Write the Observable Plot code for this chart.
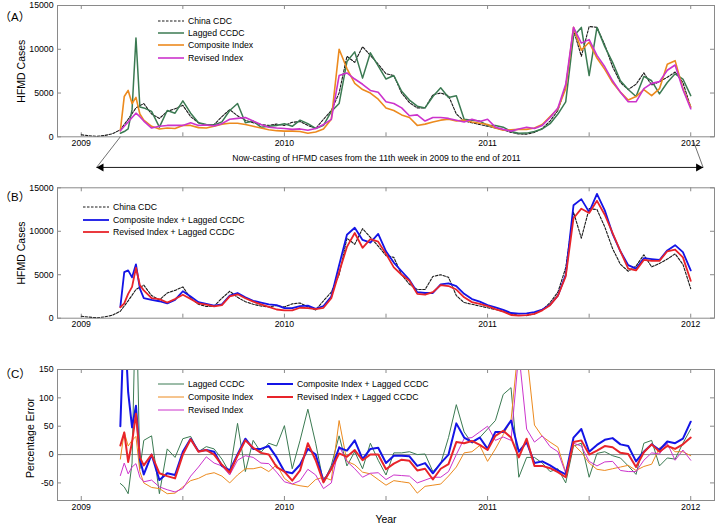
<!DOCTYPE html>
<html>
<head>
<meta charset="utf-8">
<script src="https://cdn.jsdelivr.net/npm/d3@7"></script>
<script src="https://cdn.jsdelivr.net/npm/@observablehq/plot@0.6"></script>
<style>
html,body{margin:0;padding:0;background:#fff;}
#chart{position:relative;width:716px;height:525px;overflow:hidden;font-family:"Liberation Sans",Arial,Helvetica,sans-serif;}
#chart .pnl{position:absolute;left:0;}
.lg{position:absolute;height:12px;display:flex;align-items:center;font-size:8.7px;color:#000;white-space:nowrap;}
.lg svg{display:block;margin-right:4px;}
</style>
</head>
<body>
<div id="chart"></div>
<script>
// ---------- DATA ----------
// week index counted from the first week of 2009
const weeksCDC = [0,2,4,6,8,10,12,14,16,18,20,22,24,26,28,30,32,34,36,38,40,42,44,46,48,50,52,54,56,58,60,62,64,66,68,70,72,74,76,78,80,82,84,86,88,90,92,94,96,98,100,102,104,106,108,110,112,114,116,118,120,122,124,126,128,130,132,134,136,138,140,142,144,146,148,150,152,154,156];
const weeksNow = [10,11,12,13,14,15,16,18,20,22,24,26,28,30,32,34,36,38,40,42,44,46,48,50,52,54,56,58,60,62,64,66,68,70,72,74,76,78,80,82,84,86,88,90,92,94,96,98,100,102,104,106,108,110,112,114,116,118,120,122,124,126,128,130,132,134,136,138,140,142,144,146,148,150,152,154,156];

const chinaCDC = [230,120,50,150,350,800,2000,3300,3800,2600,2100,2900,3200,3600,2300,1600,1350,1400,2300,3100,2400,1900,1600,1400,1300,1450,1300,1650,1750,1300,950,2000,3000,5000,9200,8500,10300,9300,8300,7200,7000,5000,3900,3300,3300,4800,5000,4700,2600,1800,1600,1400,1200,1000,800,500,320,300,500,950,1800,3000,5800,12200,9200,12600,12500,10500,8000,6200,5400,6000,7300,5900,6300,6800,7400,6200,3400];

const laggedCCDC = [400,600,900,3100,11300,3400,3300,2900,1100,3000,2700,4100,2700,1600,1400,1350,1700,3000,3800,1600,1800,1100,1200,1300,1500,1200,1900,1500,950,1300,2900,3800,8600,9700,6700,9600,8100,6600,7000,5200,4200,3500,3300,4600,5600,4500,4700,2000,1900,1800,1300,1300,1100,600,400,420,600,900,1500,2600,4000,11500,12500,7000,12500,10300,8500,6400,5400,4600,6900,6400,4900,6200,7200,6600,4700];

const compositeIndex = [700,4600,5300,3800,4500,2600,1900,1200,900,1000,950,1300,1300,1050,1000,1200,1450,1550,1550,1400,1200,1000,800,700,650,650,600,400,550,900,2000,10000,7800,6100,5400,5000,4300,3300,3000,2500,2200,1300,1450,1700,1900,2000,1800,1900,1700,1550,1400,1000,750,800,850,850,1000,1400,2300,3200,5500,12500,9900,10800,9000,7700,6200,5100,4200,4600,5400,4700,5500,8300,8700,5500,3400];

const revisedIndex = [700,1200,1700,2200,2700,2300,1800,1000,1200,1300,1300,1300,1600,1300,1350,1250,1500,2000,2100,2200,1800,1400,1100,1000,950,850,900,750,950,1400,2000,7000,7300,6600,6000,5300,5100,4000,3800,3300,2400,2500,1800,2200,2200,2100,1900,1700,2000,1750,2000,1100,850,650,900,1100,950,1300,2200,3300,6000,12500,10700,11100,9300,8000,6400,5100,4000,4000,5500,6100,6300,7600,8200,5400,3200];

const compositeLagged = [1300,5300,5500,4700,6200,3400,2300,2100,1950,1700,2100,3100,2500,1850,1650,1450,1600,2600,2900,2400,2000,1800,1600,1500,1150,1150,1400,1450,1070,1400,2500,6100,9600,10400,9000,8700,9700,7700,6400,5400,4400,3000,2900,2900,3900,4000,3700,2800,2200,1900,1500,1250,950,600,520,560,700,1000,1550,2600,5000,13000,13700,12200,14300,12400,9700,7700,6100,5700,6900,6800,6700,7800,8400,7600,5500];

const revisedLagged = [1260,1700,2800,3600,5800,3800,3200,2300,2200,1800,2200,2700,2200,1700,1550,1350,1500,2500,2750,2300,1900,1600,1300,1000,900,900,1200,1150,1050,1200,2300,5300,8200,9800,8100,9100,8800,7400,5850,5000,4300,2800,2700,3000,3800,3700,3300,2400,1850,1650,1400,1050,750,370,300,350,500,900,1500,2600,4800,11500,12600,12100,13500,11900,9800,7700,5700,5500,6700,6600,6600,7700,7900,7000,4300];

// percentage errors (%)
const errLagged = [-51,-57,-69,-15,300,-25,25,33,-69,10,-5,28,32,5,14,10,-8,-32,55,-30,25,4,20,15,51,-25,25,80,20,-50,-19,33,-20,5,-25,20,-10,-36,3,3,5,0,1,-30,-16,30,88,40,20,30,45,60,106,118,-40,-5,-5,-15,-30,-25,-50,15,20,-40,2,5,-2,-6,-20,-35,20,25,-20,-6,-8,20,45];
const errComposite = [-8,40,15,25,32,-30,-50,-58,-60,-69,-68,-57,-46,-42,-35,-32,-38,-50,-36,-25,-25,-22,-30,-18,-42,-52,-55,-57,-44,-40,-45,60,-12,-18,-31,-34,-44,-54,-46,-48,-50,-68,-56,-54,-52,-38,-22,3,5,16,-12,10,35,60,200,180,52,32,22,13,-31,18,4,-15,-26,-28,-25,-22,-19,-28,-21,-17,12,18,5,5,-2];
const errRevised = [-37,-15,-34,-22,-16,-40,-48,-45,-57,-62,-66,-60,-38,-22,-4,-15,-20,-36,-10,-2,-5,-15,-16,-31,-48,-52,-46,-26,-36,-60,-50,15,-12,-25,-40,-33,-32,-44,-36,-37,-38,-50,-45,-40,-40,-30,0,28,30,40,50,25,31,25,180,45,22,33,14,5,-33,20,15,-12,-20,-13,-12,-28,-30,-30,-10,3,1,20,-10,8,-10];
const errCompositeLagged = [50,250,110,48,86,-8,-35,0,-45,-33,-36,5,28,6,8,5,-20,-28,0,28,10,10,15,-5,-30,-33,-18,10,0,-47,-25,12,7,25,-8,10,12,-15,-2,-2,-3,-20,-15,-33,-15,0,55,30,22,30,10,40,40,60,5,22,-15,-12,-19,-28,-35,30,45,5,17,26,29,18,15,-12,5,18,8,23,20,28,58];
const errRevisedLagged = [16,39,-13,22,72,-5,-19,0,-33,-38,-42,0,27,5,8,0,-18,-32,-2,25,12,3,0,-22,-30,-46,-28,20,-10,-49,-25,2,-4,8,-10,0,0,-26,-16,-9,-11,-28,-25,-44,-25,-17,22,20,24,17,8,33,42,30,-5,28,-20,-20,-24,-31,-40,22,25,0,7,15,13,3,1,-22,4,18,5,15,10,18,30];

// axes
const halfYearTicks = [2009, 2009.5, 2010, 2010.5, 2011, 2011.5, 2012];
const yearTicks = [2009, 2010, 2011, 2012];
const casesTicks = [0, 5000, 10000, 15000];
const errorTicks = [-50, 0, 50, 100, 150];

// annotation (x in years, y in cases, panel A)
const nowcastText = "Now-casting of HFMD cases from the 11th week in 2009 to the end of 2011";
const nowcastArrow = [{x1: 2009.0753, x2: 2012.061, y: -3500}];
const nowcastHeads = [{x: 2009.098, y: -3500, rot: -90}, {x: 2012.038, y: -3500, rot: 90}];
const nowcastLeaders = [
  {x1: 2009 + 10/52, y1: 0, x2: 2009.0753, y2: -3500},
  {x1: 2012.012, y1: -420, x2: 2012.061, y2: -3500}
];
const nowcastLabel = [{x: 2010.453, y: -2500, t: nowcastText}];

// ---------- STYLE ----------
const FONT = '"Liberation Sans", Arial, Helvetica, sans-serif';
const COL = {cdc: "#1a1a1a", lag: "#3b7a52", comp: "#ec8a1e", rev: "#cc33cc", compLag: "#1414e6", revLag: "#e8242a"};
const W = 716, ML = 57, MR = 2, GRAY = "#8a8a8a";
const xDomain = [2008.883, 2012.117];
const toYear = w => 2009 + w / 52;
const rows = (weeks, vals) => weeks.map((w, i) => ({x: toYear(w), y: vals[i]}));

function panel(cfg) {
  const fh = cfg.height - cfg.marginTop - cfg.marginBottom;
  const fw = W - ML - MR;
  return Plot.plot({
    width: W, height: cfg.height,
    marginLeft: ML, marginRight: MR, marginTop: cfg.marginTop, marginBottom: cfg.marginBottom,
    style: {fontFamily: FONT, fontSize: "8.7px", background: "transparent", color: "#000", overflow: "visible"},
    x: {domain: xDomain},
    y: {domain: cfg.yDomain},
    marks: [
      ...(cfg.before || []),
      Plot.tickX(halfYearTicks, {x: d => d, insetTop: fh - 4, stroke: GRAY}),
      Plot.tickX(halfYearTicks, {x: d => d, insetBottom: fh - 4, stroke: GRAY}),
      Plot.tickY(cfg.yTicks, {y: d => d, insetRight: fw - 4, stroke: GRAY}),
      Plot.tickY(cfg.yTicks, {y: d => d, insetLeft: fw - 4, stroke: GRAY}),
      Plot.axisX({ticks: yearTicks, tickFormat: d => String(d), tickSize: 0, tickPadding: 3, label: null}),
      Plot.axisY({ticks: cfg.yTicks, tickFormat: d => String(d), tickSize: 0, tickPadding: 4, label: null}),
      ...cfg.marks,
      Plot.frame({stroke: GRAY}),
      Plot.text([cfg.yLabel], {text: d => d, frameAnchor: "left", rotate: -90, dx: cfg.yLabelDx, dy: cfg.yLabelDy || 0, fontSize: 10.5, textAnchor: "middle", lineAnchor: "middle"}),
      Plot.text([cfg.tag], {text: d => d, frameAnchor: "top-left", dx: -58, dy: cfg.tagDy, fontSize: 11.5, textAnchor: "start", lineAnchor: "middle", fontFamily: '"Liberation Sans", "Noto Sans CJK SC", sans-serif'}),
      ...(cfg.after || [])
    ]
  });
}

const chart = document.getElementById("chart");
function place(svg, top) {
  const d = document.createElement("div");
  d.className = "pnl";
  d.style.top = top + "px";
  d.appendChild(svg);
  chart.appendChild(d);
}

// Panel A
place(panel({
  height: 175, marginTop: 5, marginBottom: 38.7,
  yDomain: [0, 15000], yTicks: casesTicks, yLabel: "HFMD Cases", yLabelDx: -36, tag: "（A）", tagDy: 12,
  marks: [
    Plot.line(rows(weeksCDC, chinaCDC), {x: "x", y: "y", stroke: COL.cdc, strokeWidth: 1.1, strokeDasharray: "2.5,1.5"}),
    Plot.line(rows(weeksNow, laggedCCDC), {x: "x", y: "y", stroke: COL.lag, strokeWidth: 1.5}),
    Plot.line(rows(weeksNow, compositeIndex), {x: "x", y: "y", stroke: COL.comp, strokeWidth: 1.6}),
    Plot.line(rows(weeksNow, revisedIndex), {x: "x", y: "y", stroke: COL.rev, strokeWidth: 1.6})
  ],
  after: [
    Plot.link(nowcastLeaders, {x1: "x1", y1: "y1", x2: "x2", y2: "y2", stroke: "#333", strokeWidth: 0.7}),
    Plot.link(nowcastArrow, {x1: "x1", x2: "x2", y1: "y", y2: "y", stroke: "#000", strokeWidth: 0.9}),
    Plot.dot(nowcastHeads, {x: "x", y: "y", rotate: "rot", symbol: "triangle", r: 3, fill: "#000", stroke: null}),
    Plot.text(nowcastLabel, {x: "x", y: "y", text: "t", fontSize: 8.7, textAnchor: "middle", lineAnchor: "middle"})
  ]
}), 0);

// Panel B
place(panel({
  height: 165, marginTop: 12.3, marginBottom: 22.3,
  yDomain: [0, 15000], yTicks: casesTicks, yLabel: "HFMD Cases", yLabelDx: -36, tag: "（B）", tagDy: 9.2,
  marks: [
    Plot.line(rows(weeksCDC, chinaCDC), {x: "x", y: "y", stroke: COL.cdc, strokeWidth: 1.1, strokeDasharray: "2.5,1.5"}),
    Plot.line(rows(weeksNow, compositeLagged), {x: "x", y: "y", stroke: COL.compLag, strokeWidth: 1.8}),
    Plot.line(rows(weeksNow, revisedLagged), {x: "x", y: "y", stroke: COL.revLag, strokeWidth: 1.8})
  ]
}), 175);

// Panel C
place(panel({
  height: 185, marginTop: 29, marginBottom: 25,
  yDomain: [-81, 150], yTicks: errorTicks, yLabel: "Percentage Error", yLabelDx: -26.5, yLabelDy: 3, tag: "（C）", tagDy: 5,
  before: [Plot.ruleY([0], {stroke: GRAY, strokeWidth: 1})],
  marks: [
    Plot.line(rows(weeksNow, errLagged), {x: "x", y: "y", stroke: COL.lag, strokeWidth: 1, clip: true}),
    Plot.line(rows(weeksNow, errComposite), {x: "x", y: "y", stroke: COL.comp, strokeWidth: 1, clip: true}),
    Plot.line(rows(weeksNow, errRevised), {x: "x", y: "y", stroke: COL.rev, strokeWidth: 1, clip: true}),
    Plot.line(rows(weeksNow, errCompositeLagged), {x: "x", y: "y", stroke: COL.compLag, strokeWidth: 2, clip: true}),
    Plot.line(rows(weeksNow, errRevisedLagged), {x: "x", y: "y", stroke: COL.revLag, strokeWidth: 2, clip: true})
  ],
  after: [Plot.text(["Year"], {text: d => d, frameAnchor: "bottom", dy: 19, fontSize: 10.5, textAnchor: "middle", lineAnchor: "middle"})]
}), 340);

// ---------- LEGENDS ----------
function legend(items, left, firstCenter, rowH) {
  items.forEach((it, i) => {
    const row = document.createElement("div");
    row.className = "lg";
    row.style.left = left + "px";
    row.style.top = (firstCenter - 6 + i * rowH) + "px";
    const s = d3.create("svg").attr("width", 26).attr("height", 12);
    s.append("line").attr("x1", 0).attr("x2", 26).attr("y1", 6).attr("y2", 6)
      .attr("stroke", it.color).attr("stroke-width", it.width)
      .attr("stroke-dasharray", it.dash || null);
    row.appendChild(s.node());
    const t = document.createElement("span");
    t.textContent = it.name;
    row.appendChild(t);
    chart.appendChild(row);
  });
}
legend([
  {name: "China CDC", color: COL.cdc, width: 1.1, dash: "2.5,1.5"},
  {name: "Lagged CCDC", color: COL.lag, width: 1.5},
  {name: "Composite Index", color: COL.comp, width: 1.6},
  {name: "Revised Index", color: COL.rev, width: 1.6}
], 158, 21, 12.2);
legend([
  {name: "China CDC", color: COL.cdc, width: 1.1, dash: "2.5,1.5"},
  {name: "Composite Index + Lagged CCDC", color: COL.compLag, width: 1.8},
  {name: "Revised Index + Lagged CCDC", color: COL.revLag, width: 1.8}
], 83, 207.3, 12.5);
legend([
  {name: "Lagged CCDC", color: COL.lag, width: 1},
  {name: "Composite Index", color: COL.comp, width: 1},
  {name: "Revised Index", color: COL.rev, width: 1}
], 158, 384.3, 12.8);
legend([
  {name: "Composite Index + Lagged CCDC", color: COL.compLag, width: 2},
  {name: "Revised Index + Lagged CCDC", color: COL.revLag, width: 2}
], 267, 384.3, 12.8);
</script>
</body>
</html>
